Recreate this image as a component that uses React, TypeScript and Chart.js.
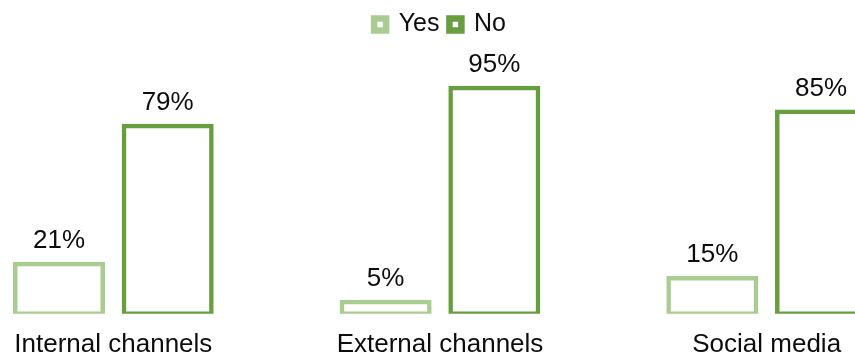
import React, { useEffect, useRef } from "react";
import { Chart, registerables } from "chart.js";

Chart.register(...registerables);

// Survey answers per channel, in percent
const categories = ["Internal channels", "External channels", "Social media"];
const seriesNames = ["Yes", "No"];
const yesValues = [21, 5, 15];
const noValues = [79, 95, 85];

const YES_COLOR = "#A9CD91";
const NO_COLOR = "#669E40";
const TEXT_COLOR = "#0d0d0d";
const FONT_FAMILY = "'Liberation Sans', Arial, sans-serif";

// Percent labels above every bar
const valueLabels = {
  id: "valueLabels",
  afterDatasetsDraw(chart: any) {
    const ctx = chart.ctx;
    ctx.save();
    ctx.font = `26px ${FONT_FAMILY}`;
    ctx.fillStyle = TEXT_COLOR;
    ctx.textAlign = "center";
    ctx.textBaseline = "alphabetic";
    chart.data.datasets.forEach((ds: any, i: number) => {
      chart.getDatasetMeta(i).data.forEach((bar: any, j: number) => {
        ctx.fillText(`${ds.data[j]}%`, bar.x, bar.y - 16);
      });
    });
    ctx.restore();
  },
};

export default function App() {
  const canvasRef = useRef<HTMLCanvasElement | null>(null);

  useEffect(() => {
    if (!canvasRef.current) return;
    const outlineBar = (color: string) => ({
      backgroundColor: "#ffffff",
      borderColor: color,
      borderWidth: 4.5,
      borderSkipped: false,
      inflateAmount: 2.25,
      categoryPercentage: 0.6655,
      barPercentage: 0.805,
    });
    const chart = new Chart(canvasRef.current, {
      type: "bar",
      data: {
        labels: categories,
        datasets: [
          { label: seriesNames[0], data: yesValues, ...outlineBar(YES_COLOR) },
          { label: seriesNames[1], data: noValues, ...outlineBar(NO_COLOR) },
        ],
      },
      options: {
        responsive: false,
        animation: false,
        devicePixelRatio: 1,
        layout: { padding: { top: 2, left: 0, right: 0, bottom: 0 } },
        plugins: {
          tooltip: { enabled: false },
          legend: {
            display: true,
            position: "top",
            labels: {
              boxWidth: 12,
              boxHeight: 12,
              padding: 10,
              color: TEXT_COLOR,
              font: { size: 25, family: FONT_FAMILY },
              generateLabels: (c: any) =>
                c.data.datasets.map((ds: any, i: number) => ({
                  text: ds.label,
                  fillStyle: "#ffffff",
                  strokeStyle: ds.borderColor,
                  lineWidth: 6.5,
                  hidden: false,
                  datasetIndex: i,
                  fontColor: TEXT_COLOR,
                })),
            },
          },
        },
        scales: {
          x: {
            grid: { display: false, drawTicks: false },
            border: { display: false },
            ticks: {
              color: TEXT_COLOR,
              font: { size: 26, family: FONT_FAMILY },
              padding: 15,
              maxRotation: 0,
              autoSkip: false,
            },
          },
          y: { display: false, min: 0, max: 112.3 },
        },
      },
      plugins: [valueLabels],
    } as any);
    return () => chart.destroy();
  }, []);

  return (
    <div
      style={{
        position: "fixed",
        left: 0,
        top: 0,
        width: 855,
        height: 354,
        overflow: "hidden",
        background: "#ffffff",
      }}
    >
      <canvas
        ref={canvasRef}
        width={980}
        height={375}
        style={{ position: "absolute", left: -50, top: 0, width: 980, height: 375 }}
      />
    </div>
  );
}
